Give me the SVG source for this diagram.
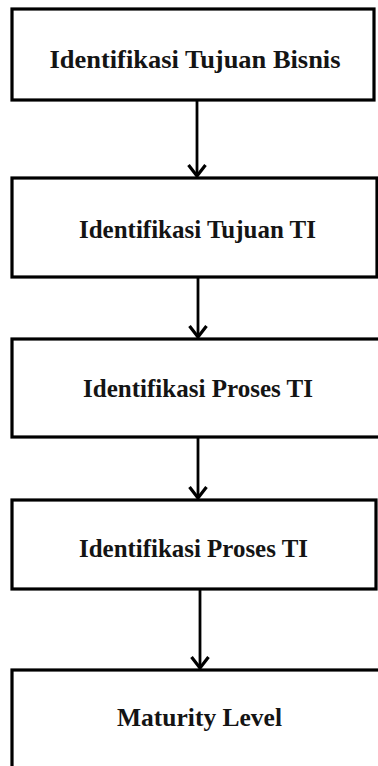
<svg xmlns="http://www.w3.org/2000/svg" width="378" height="766" viewBox="0 0 378 766">
<style>
  .box { fill: #ffffff; stroke: #000000; stroke-width: 3.2; }
  .label { font-family: "Liberation Serif", "Times New Roman", serif; font-weight: bold; font-size: 25.5px; fill: #141414; text-anchor: middle; }
  .conn { stroke: #000000; stroke-width: 2.8; fill: none; }
</style>
<defs>
  <marker id="arrow" viewBox="0 0 14 20" refX="12" refY="10" markerWidth="14" markerHeight="20" markerUnits="userSpaceOnUse" orient="auto">
    <path d="M1,1.5 L12,10 L1,18.5" fill="none" stroke="#000000" stroke-width="3.2"/>
  </marker>
</defs>
<rect width="378" height="766" fill="#ffffff"/>
<g id="connectors">
  <line class="conn" x1="197" y1="100" x2="197" y2="176" marker-end="url(#arrow)"/>
  <line class="conn" x1="198" y1="277" x2="198" y2="337" marker-end="url(#arrow)"/>
  <line class="conn" x1="198" y1="437" x2="198" y2="498" marker-end="url(#arrow)"/>
  <line class="conn" x1="200" y1="589" x2="200" y2="668" marker-end="url(#arrow)"/>
</g>
<g id="node1">
  <rect class="box" x="12" y="9" width="362" height="91"/>
  <text class="label" x="195" y="68" textLength="291" lengthAdjust="spacingAndGlyphs">Identifikasi Tujuan Bisnis</text>
</g>
<g id="node2">
  <rect class="box" x="12" y="178" width="365" height="99"/>
  <text class="label" x="197.5" y="237.5" textLength="237" lengthAdjust="spacingAndGlyphs">Identifikasi Tujuan TI</text>
</g>
<g id="node3">
  <rect class="box" x="12" y="339" width="370" height="98"/>
  <text class="label" x="198" y="396.5" textLength="230" lengthAdjust="spacingAndGlyphs">Identifikasi Proses TI</text>
</g>
<g id="node4">
  <rect class="box" x="12" y="500" width="364" height="89"/>
  <text class="label" x="193.5" y="556.5" textLength="229" lengthAdjust="spacingAndGlyphs">Identifikasi Proses TI</text>
</g>
<g id="node5">
  <rect class="box" x="12" y="670" width="380" height="110"/>
  <text class="label" x="199.5" y="726" textLength="165" lengthAdjust="spacingAndGlyphs">Maturity Level</text>
</g>
</svg>
